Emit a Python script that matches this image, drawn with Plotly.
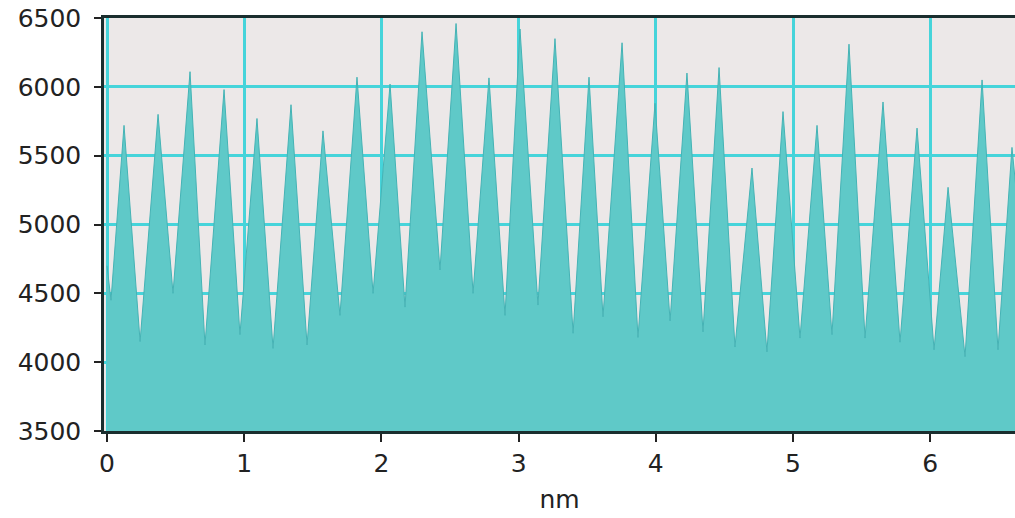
import plotly.graph_objects as go

# Peak positions (nm) and heights
peak_nm = [0.124, 0.372, 0.605, 0.853, 1.093, 1.341, 1.574, 1.822, 2.063, 2.296,
           2.544, 2.784, 3.010, 3.265, 3.513, 3.754, 3.994, 4.227, 4.461, 4.701,
           4.927, 5.175, 5.408, 5.656, 5.904, 6.130, 6.378, 6.596]
peak_val = [5720, 5800, 6110, 5980, 5770, 5870, 5680, 6070, 6020, 6400,
            6460, 6065, 6420, 6350, 6070, 6320, 5880, 6100, 6140, 5410,
            5820, 5720, 6310, 5890, 5700, 5270, 6050, 5560]

# Valley positions (nm) and minima
valley_nm = [0.000, 0.029, 0.241, 0.481, 0.714, 0.969, 1.210, 1.458, 1.698, 1.939,
             2.172, 2.427, 2.668, 2.901, 3.141, 3.397, 3.615, 3.870, 4.104, 4.344,
             4.577, 4.810, 5.051, 5.284, 5.525, 5.780, 6.028, 6.254, 6.494, 6.660]
valley_val = [4700, 4450, 4150, 4500, 4125, 4200, 4100, 4125, 4340, 4500,
              4400, 4670, 4500, 4340, 4415, 4210, 4330, 4180, 4300, 4220,
              4110, 4075, 4175, 4200, 4175, 4145, 4090, 4040, 4090, 4900]

y_ticks = [3500, 4000, 4500, 5000, 5500, 6000, 6500]
x_ticks = [0, 1, 2, 3, 4, 5, 6]

pts = sorted(list(zip(peak_nm, peak_val)) + list(zip(valley_nm, valley_val)))
xs = [p[0] for p in pts]
ys = [p[1] for p in pts]

fig = go.Figure()
fig.add_trace(go.Scatter(
    x=xs, y=ys, mode="lines", fill="tozeroy",
    fillcolor="#5fc9c8", line=dict(color="#45b3b5", width=1),
    hoverinfo="skip", showlegend=False,
))

font_family = "DejaVu Sans"
fig.update_layout(
    width=1015, height=518,
    margin=dict(l=104, r=0, t=18, b=87),
    paper_bgcolor="white",
    plot_bgcolor="#ece8e8",
    font=dict(family=font_family, color="#222222", size=25),
    xaxis=dict(
        range=[-0.022, 6.618], tickvals=x_ticks, ticktext=[str(v) for v in x_ticks],
        showgrid=True, gridcolor="#46d4da", gridwidth=2.5,
        showline=True, linecolor="#1a2e2e", linewidth=2.5, mirror=True,
        ticks="outside", ticklen=8, tickwidth=2, tickcolor="#222222",
        tickfont=dict(size=25), zeroline=False,
        title=dict(text="nm", font=dict(size=25), standoff=14),
    ),
    yaxis=dict(
        range=[3500, 6500], tickvals=y_ticks, ticktext=[str(v) for v in y_ticks],
        showgrid=True, gridcolor="#46d4da", gridwidth=2.5,
        showline=True, linecolor="#1a2e2e", linewidth=2.5,
        ticks="outside", ticklen=7, tickwidth=2, tickcolor="#222222",
        tickfont=dict(size=25), zeroline=False, ticklabelstandoff=8,
    ),
)

fig.write_html(
    "out.html",
    config={"displayModeBar": False},
    post_script="document.body.style.margin='0';document.body.style.overflow='hidden';",
)
